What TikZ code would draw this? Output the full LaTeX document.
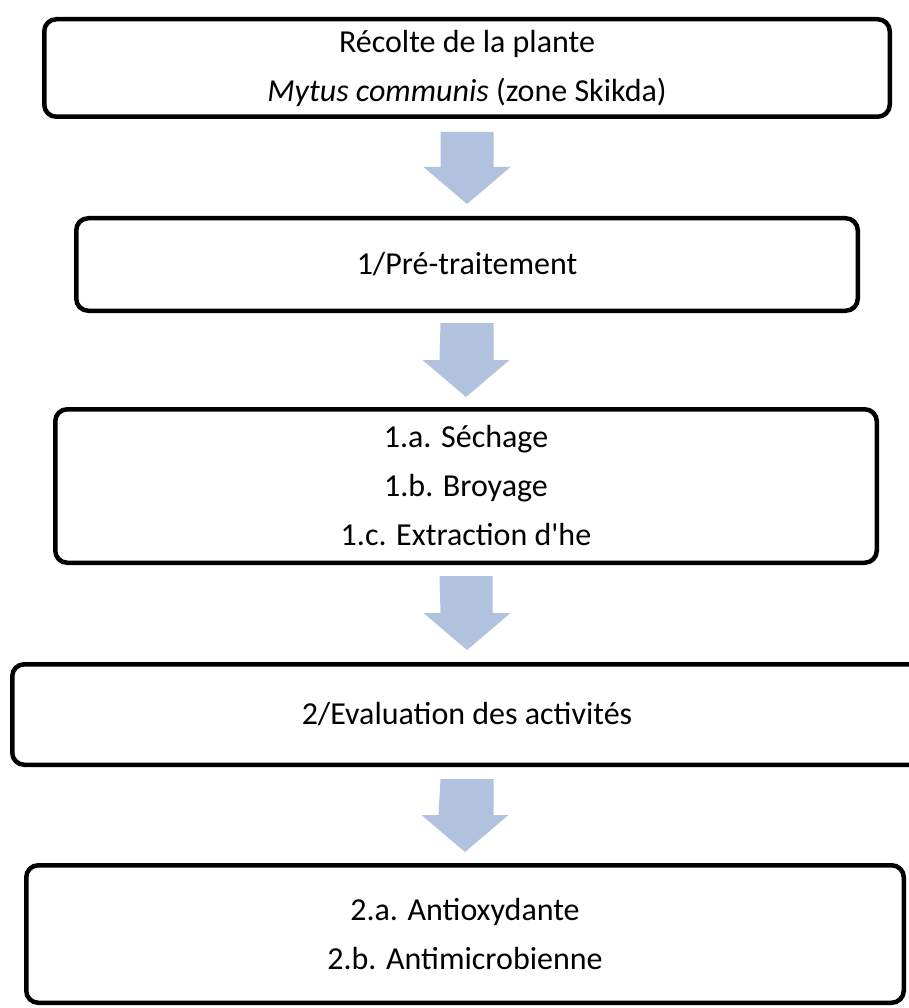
\documentclass[tikz,border=0pt]{standalone}
\usepackage{fontspec}
\setmainfont{Carlito}
\usetikzlibrary{calc}
\definecolor{pfeilblau}{RGB}{176,194,222}

\begin{document}
\begin{tikzpicture}[x=1pt,y=-1pt,
  etape/.style={draw,line width=4.5pt,rounded corners=12pt,align=center,
    font=\fontsize{32}{49}\selectfont},
  pfeil/.style={fill=pfeilblau}]

\useasboundingbox (0,0) rectangle (908,1008);

%\draw(0,0) grid[step=100] (908,1008);


\node[etape,minimum width=845.5pt,minimum height=97.5pt] (recolte) at (467,68)
  {Récolte de la plante\\\textit{Mytus communis} (zone Skikda)};

\node[etape,minimum width=781.5pt,minimum height=92.5pt] (pretrait) at (467,264.5)
  {1/Pré-traitement};

\node[etape,minimum width=821.5pt,minimum height=153.5pt] (etapes1) at (466,486)
  {1.a. Séchage\\1.b. Broyage\\1.c. Extraction d\textquotesingle he};

\node[etape,minimum width=909.5pt,minimum height=100.5pt] (evaluation) at (467,714.5)
  {2/Evaluation des activités};

\node[etape,minimum width=877.5pt,minimum height=137.5pt] (etapes2) at (465,934)
  {2.a. Antioxydante\\2.b. Antimicrobienne};


% fleches
\fill[pfeil] ($(recolte.south)+(-26.5,13)$) -- ++(53,0) |- ($(pretrait.north)+(43.5,-49)$)
  -- ($(pretrait.north)+(0,-12)$) -- ++(-43.5,-37) -- ++(17,0) -- cycle;
\fill[pfeil] ($(pretrait.south)+(-26.5,10)$) -- ++(53,0) |- ($(etapes1.north)+(43.5,-47)$)
  -- ($(etapes1.north)+(0,-10)$) -- ++(-43.5,-37) -- ++(17,0) -- cycle;
\fill[pfeil] ($(etapes1.south)+(-26.5,11)$) -- ++(53,0) |- ($(evaluation.north)+(43.5,-49)$)
  -- ($(evaluation.north)+(0,-12)$) -- ++(-43.5,-37) -- ++(17,0) -- cycle;
\fill[pfeil] ($(evaluation.south)+(-26.5,12)$) -- ++(53,0) |- ($(etapes2.north)+(43.5,-48)$)
  -- ($(etapes2.north)+(0,-11)$) -- ++(-43.5,-37) -- ++(17,0) -- cycle;

\end{tikzpicture}
\end{document}
